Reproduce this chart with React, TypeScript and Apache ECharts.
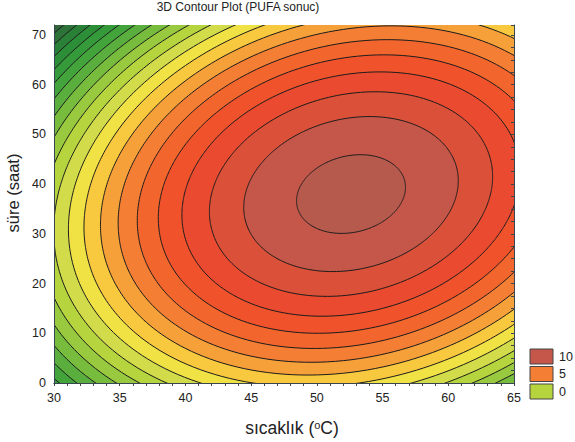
import { useEffect, useRef } from "react";
import * as echarts from "echarts";

const FONT = '"Liberation Sans", Arial, Helvetica, sans-serif';

// Second-order response surface for PUFA over temperature (x, °C) and time (y, h):
// z = b0 + b1·x + b2·y + b11·x² + b22·y² + b12·x·y
const modelCoefficients = [-47.046, 2.0491, 0.237, -0.020833, -0.005714, 0.00375];

const xRange = [30, 65];
const xStep = 5;
const yRange = [0, 72];
const yStep = 10;

// contour levels and the fill of each band (index 0 = below the lowest level)
const contourLevels = [-9, -8, -7, -6, -5, -4, -3, -2, -1, 0, 1, 2, 3, 4, 5, 6, 7, 8, 9, 10, 11];
const bandColors = [
  "#375a3d", "#31643b", "#2d7239", "#2b8038", "#2d8e38", "#349a3a", "#44a43c",
  "#5aae3e", "#78bc3e", "#98c93e", "#b6d43e", "#d2dc4a", "#f0e244", "#f8c83e",
  "#f6a03a", "#f47e34", "#f2662e", "#f0522c", "#e94a30", "#da5038", "#c5574a",
  "#b65a4e",
];

const legendValues = [10, 5, 0];

const titleText = "3D Contour Plot (PUFA sonuc)";
const xTitle = "sıcaklık (";
const yTitle = "süre (saat)";

function bandColorOf(v: number) {
  let n = 0;
  for (const l of contourLevels) if (l <= v) n++;
  return bandColors[n];
}

// stationary point (maximum) of the quadratic model
function modelPeak() {
  const [b0, b1, b2, b11, b22, b12] = modelCoefficients;
  const det = 4 * b11 * b22 - b12 * b12;
  const xc = (-2 * b1 * b22 + b12 * b2) / det;
  const yc = (-2 * b11 * b2 + b1 * b12) / det;
  const zc = b0 + b1 * xc + b2 * yc + b11 * xc * xc + b22 * yc * yc + b12 * xc * yc;
  return { xc, yc, zc };
}

export default function App() {
  const ref = useRef<HTMLDivElement>(null);

  useEffect(() => {
    if (!ref.current) return;
    const chart = echarts.init(ref.current, undefined, { renderer: "svg" });
    const peak = modelPeak();
    const [, , , b11, b22, b12] = modelCoefficients;

    // region {z >= level} is an ellipse around the peak; each one is filled with
    // the band colour above its level and outlined as the contour line
    const renderItem = (_params: any, api: any) => {
      const idx = api.value(2);
      const level = contourLevels[idx];
      const points: number[][] = [];
      const N = 360;
      for (let k = 0; k < N; k++) {
        const t = (2 * Math.PI * k) / N;
        const c = Math.cos(t);
        const s = Math.sin(t);
        const q = -(b11 * c * c + b22 * s * s + b12 * c * s);
        const r = Math.sqrt(Math.max(peak.zc - level, 0) / q);
        points.push(api.coord([peak.xc + r * c, peak.yc + r * s]));
      }
      return {
        type: "polygon",
        shape: { points },
        style: { fill: bandColors[idx + 1], stroke: "#1c1c1c", lineWidth: 1 },
      };
    };

    const frameColor = "#3a4552";
    const legendGraphics: any[] = [];
    legendValues.forEach((v, i) => {
      const cy = 356.5 + i * 17.5;
      legendGraphics.push({
        type: "rect",
        shape: { x: 530, y: cy - 7.5, width: 23, height: 15 },
        style: { fill: bandColorOf(v), stroke: "#444", lineWidth: 1 },
      });
      legendGraphics.push({
        type: "text",
        x: 559,
        y: cy,
        style: {
          text: String(v),
          fontSize: 12.5,
          fontFamily: FONT,
          fill: "#222",
          align: "left",
          verticalAlign: "middle",
          textAlign: "left",
          textVerticalAlign: "middle",
        },
      });
    });

    chart.setOption({
      animation: false,
      backgroundColor: "#ffffff",
      title: {
        text: titleText,
        left: 238,
        top: 1,
        textAlign: "center",
        padding: 0,
        textStyle: { fontSize: 12, fontWeight: "normal", color: "#222", fontFamily: FONT },
      },
      grid: {
        left: 54,
        right: 61,
        top: 25,
        bottom: 59,
        show: true,
        backgroundColor: bandColors[0],
        borderWidth: 0,
      },
      xAxis: [
        {
          type: "value",
          position: "bottom",
          min: xRange[0],
          max: xRange[1],
          interval: xStep,
          z: 10,
          axisLine: { show: true, lineStyle: { color: frameColor, width: 1 } },
          axisTick: { show: false },
          splitLine: { show: false },
          axisLabel: { fontSize: 12.5, color: "#222", fontFamily: FONT, margin: 8 },
        },
        {
          type: "value",
          position: "top",
          min: xRange[0],
          max: xRange[1],
          interval: 1,
          z: 10,
          axisLine: { show: true, lineStyle: { color: frameColor, width: 1 } },
          axisTick: { show: true, inside: true, length: 3, lineStyle: { color: frameColor } },
          splitLine: { show: false },
          axisLabel: { show: false },
        },
      ],
      yAxis: [
        {
          type: "value",
          position: "left",
          min: yRange[0],
          max: yRange[1],
          interval: yStep,
          z: 10,
          axisLine: { show: true, lineStyle: { color: frameColor, width: 1 } },
          axisTick: { show: false },
          splitLine: { show: false },
          axisLabel: {
            fontSize: 12.5,
            color: "#222",
            fontFamily: FONT,
            margin: 8,
            formatter: (v: number) => (v % yStep === 0 ? String(v) : ""),
          },
        },
        {
          type: "value",
          position: "right",
          min: yRange[0],
          max: yRange[1],
          interval: 2.5,
          z: 10,
          axisLine: { show: true, lineStyle: { color: frameColor, width: 1 } },
          axisTick: { show: true, inside: true, length: 3, lineStyle: { color: frameColor } },
          splitLine: { show: false },
          axisLabel: { show: false },
        },
      ],
      series: [
        {
          type: "custom",
          xAxisIndex: 0,
          yAxisIndex: 0,
          clip: true,
          renderItem,
          encode: { x: 0, y: 1 },
          data: contourLevels.map((_, i) => [peak.xc, peak.yc, i]),
        },
      ],
      graphic: [
        {
          type: "text",
          x: 13,
          y: 193,
          rotation: Math.PI / 2,
          style: {
            text: yTitle,
            fontSize: 16.5,
            fontFamily: FONT,
            fill: "#222",
            align: "center",
            verticalAlign: "middle",
            textAlign: "center",
            textVerticalAlign: "middle",
          },
        },
        {
          type: "text",
          x: 292,
          y: 428,
          style: {
            text: `{n|${xTitle}}{s|o}{n|C)}`,
            fontFamily: FONT,
            fill: "#222",
            align: "center",
            verticalAlign: "middle",
            textAlign: "center",
            textVerticalAlign: "middle",
            rich: {
              n: { fontSize: 17.5, fontFamily: FONT, fill: "#222", verticalAlign: "bottom" },
              s: { fontSize: 11, fontFamily: FONT, fill: "#222", verticalAlign: "top" },
            },
          },
        },
        ...legendGraphics,
      ],
    });

    return () => chart.dispose();
  }, []);

  return (
    <div
      ref={ref}
      style={{ position: "absolute", left: 0, top: 0, width: 575, height: 442 }}
    />
  );
}
